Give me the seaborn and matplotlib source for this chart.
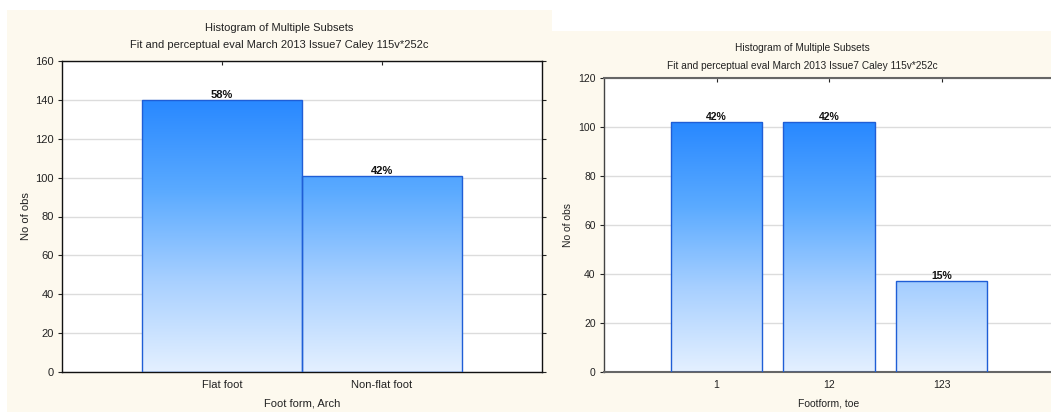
import numpy as np
import pandas as pd
import matplotlib
matplotlib.use("Agg")
import matplotlib.pyplot as plt
from matplotlib.colors import LinearSegmentedColormap
from matplotlib.patches import Rectangle
import seaborn as sns

# Counts per category (241 valid cases)
arch_categories = ["Flat foot", "Non-flat foot"]
arch_counts = [140, 101]
toe_categories = ["1", "12", "123"]
toe_counts = [102, 102, 37]

title_main = "Histogram of Multiple Subsets"
title_sub = "Fit and perceptual eval March 2013 Issue7 Caley 115v*252c"

sns.set_theme(style="white")
plt.rcParams["font.family"] = ["Liberation Sans", "DejaVu Sans"]

W, H = 1051, 412
fig = plt.figure(figsize=(W / 100, H / 100), dpi=100)
fig.patch.set_facecolor("white")

panel_color = "#FDF9EE"
# Panel backgrounds (pixel boxes converted to figure fractions)
fig.patches.append(Rectangle((7 / W, 0), (552 - 7) / W, (H - 10) / H,
                             transform=fig.transFigure, facecolor=panel_color,
                             edgecolor="none", zorder=-10))
fig.patches.append(Rectangle((552 / W, 0), (W - 552) / W, (H - 31) / H,
                             transform=fig.transFigure, facecolor=panel_color,
                             edgecolor="none", zorder=-10))

grad_cmap = LinearSegmentedColormap.from_list(
    "bluegrad", ["#E4F0FF", "#A8D0FF", "#5AAAFF", "#2888FF"])


def draw_panel(ax, cats, counts, width, xlim, ylim, yticks, xlabel, fs, ypad):
    df = pd.DataFrame({"cat": cats, "n": counts})
    sns.barplot(data=df, x="cat", y="n", ax=ax, width=width,
                facecolor="none", edgecolor="#1F5ED6", linewidth=1.0,
                errorbar=None, zorder=3)
    top = max(counts)
    grad = np.linspace(0, 1, 256).reshape(-1, 1)
    total = sum(counts)
    for patch, v in zip(ax.patches, counts):
        x0, y0 = patch.get_x(), patch.get_y()
        w, h = patch.get_width(), patch.get_height()
        im = ax.imshow(grad, cmap=grad_cmap, origin="lower", aspect="auto",
                       extent=(x0, x0 + w, 0, top), zorder=2,
                       interpolation="bilinear")
        im.set_clip_path(patch)
        ax.text(x0 + w / 2, y0 + h, f"{round(v / total * 100)}%",
                ha="center", va="bottom", fontsize=fs, fontweight="bold",
                color="#111111", zorder=5)
    ax.set_xlim(*xlim)
    ax.set_ylim(*ylim)
    ax.set_yticks(yticks)
    ax.set_facecolor("white")
    ax.grid(axis="y", color="#DCDCDC", linewidth=1.0, zorder=0)
    ax.set_axisbelow(True)
    ax.set_xlabel(xlabel, fontsize=fs, color="#222222", labelpad=6)
    ax.set_ylabel("No of obs", fontsize=fs, color="#222222", labelpad=ypad)
    ax.tick_params(axis="y", left=True, right=True, direction="out",
                   length=3, width=0.8, labelsize=fs, colors="#222222", pad=3)
    ax.tick_params(axis="x", bottom=True, top=True, direction="in",
                   length=3, width=0.8, labelsize=fs, colors="#222222", pad=6)


# Left panel: arch
ax1 = fig.add_axes([62 / W, (H - 372) / H, (542 - 62) / W, (372 - 61) / H])
draw_panel(ax1, arch_categories, arch_counts, 1.0, (-1, 2), (0, 160),
           np.arange(0, 161, 20), "Foot form, Arch", 8, 3)
for side in ["left", "bottom", "top", "right"]:
    ax1.spines[side].set_visible(True)
    ax1.spines[side].set_color("#111111")
    ax1.spines[side].set_linewidth(1.0)

fig.text(279 / W, 1 - 28 / H, title_main, ha="center", va="center",
         fontsize=8, color="#222222")
fig.text(279 / W, 1 - 45 / H, title_sub, ha="center", va="center",
         fontsize=8, color="#222222")

# Right panel: toe (plot area runs past the figure edge)
ax2 = fig.add_axes([604 / W, (H - 372) / H, (1054 - 604) / W, (372 - 78) / H])
draw_panel(ax2, toe_categories, toe_counts, 0.81, (-1, 3), (0, 120),
           np.arange(0, 121, 20), "Footform, toe", 7.5, 4)
for side in ["left", "bottom", "top", "right"]:
    ax2.spines[side].set_visible(True)
    ax2.spines[side].set_color("#666666")
    ax2.spines[side].set_linewidth(1.5)
ax2.spines["left"].set_color("#444444")
ax2.spines["left"].set_linewidth(1.0)

fig.text(802 / W, 1 - 48 / H, title_main, ha="center", va="center",
         fontsize=7.3, color="#222222")
fig.text(802 / W, 1 - 66 / H, title_sub, ha="center", va="center",
         fontsize=7.3, color="#222222")

fig.savefig("out.png", dpi=100, facecolor=fig.get_facecolor())
